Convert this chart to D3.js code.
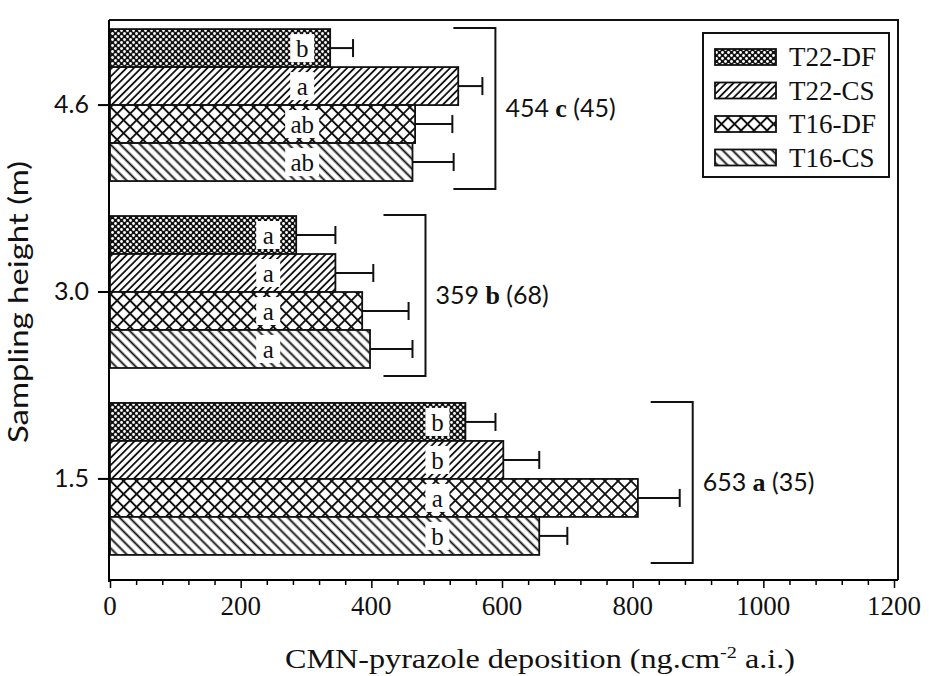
<!DOCTYPE html>
<html>
<head>
<meta charset="utf-8">
<script src="https://cdn.jsdelivr.net/npm/d3@7"></script>
<style>
  body { margin: 0; background: #fff; }
  svg { display: block; }
</style>
</head>
<body>
<svg width="929" height="676"></svg>
<script>
// sampling heights (top to bottom) and treatments
var heights = ['4.6', '3.0', '1.5'];
var treatments = ['T22-DF', 'T22-CS', 'T16-DF', 'T16-CS'];

// deposition per treatment, one array per height (same order as treatments)
var dep46 = [337, 533, 467, 463];
var dep30 = [285, 345, 386, 398];
var dep15 = [544, 602, 808, 657];

// error bars (+)
var err46 = [35, 37, 57, 63];
var err30 = [60, 58, 71, 65];
var err15 = [46, 55, 64, 43];

// significance letters inside bars
var let46 = ['b', 'a', 'ab', 'ab'];
var let30 = ['a', 'a', 'a', 'a'];
var let15 = ['b', 'b', 'a', 'b'];

// group summary: mean, letter, (sd)
var groupMean = [454, 359, 653];
var groupLetter = ['c', 'b', 'a'];
var groupSd = [45, 68, 35];

var xTicks = [0, 200, 400, 600, 800, 1000, 1200];

var values = [dep46, dep30, dep15];
var errors = [err46, err30, err15];
var letters = [let46, let30, let15];

var svg = d3.select('svg');
var margin = {top: 20, left: 109, right: 898, bottom: 580};

var xScale = d3.scaleLinear()
  .domain([0, 1200])
  .range([110, 894]);

var yScale = d3.scaleBand()
  .domain(heights)
  .range([16, 568])
  .paddingInner(0.187)
  .paddingOuter(0.07);

var inner = d3.scaleBand()
  .domain(treatments)
  .range([0, yScale.bandwidth()]);

// patterns
var defs = svg.append('defs');

var dots = defs.append('pattern')
  .attr('id', 'p0')
  .attr('patternUnits', 'userSpaceOnUse')
  .attr('width', 6).attr('height', 6);
dots.append('rect').attr('width', 6).attr('height', 6).attr('fill', '#111');
dots.append('circle').attr('cx', 1.5).attr('cy', 1.5).attr('r', 1.4).attr('fill', '#fff');
dots.append('circle').attr('cx', 4.5).attr('cy', 4.5).attr('r', 1.4).attr('fill', '#fff');

function stripes(id, w, angle, lw) {
  var p = defs.append('pattern')
    .attr('id', id)
    .attr('patternUnits', 'userSpaceOnUse')
    .attr('width', w).attr('height', w)
    .attr('patternTransform', 'rotate(' + angle + ')');
  p.append('rect').attr('width', w).attr('height', w).attr('fill', '#fff');
  p.append('line')
    .attr('x1', w / 2).attr('x2', w / 2)
    .attr('y1', 0).attr('y2', w)
    .attr('stroke', '#111').attr('stroke-width', lw);
  return p;
}
stripes('p1', 5.2, 45, 1.8);
var cross = stripes('p2', 9.2, 45, 1.9);
cross.append('line')
  .attr('x1', 0).attr('x2', 9.2)
  .attr('y1', 4.6).attr('y2', 4.6)
  .attr('stroke', '#111').attr('stroke-width', 1.9);
stripes('p3', 7, -45, 1.9);

var fills = ['url(#p0)', 'url(#p1)', 'url(#p2)', 'url(#p3)'];

// bars
var groups = svg.selectAll('g.grp')
  .data(heights)
  .enter()
  .append('g')
  .attr('class', 'grp')
  .attr('transform', (d) => `translate(0, ${yScale(d)})`);

groups.each(function(h, gi) {
  var g = d3.select(this);
  var rows = treatments.map((t, i) => ({t: t, i: i, v: values[gi][i], e: errors[gi][i], l: letters[gi][i]}));

  // error bars first, bars on top
  g.selectAll('line.err')
    .data(rows)
    .enter()
    .append('line')
    .attr('x1', (d) => xScale(d.v))
    .attr('x2', (d) => xScale(d.v + d.e))
    .attr('y1', (d) => inner(d.t) + inner.bandwidth() / 2)
    .attr('y2', (d) => inner(d.t) + inner.bandwidth() / 2)
    .attr('stroke', '#111').attr('stroke-width', 2);
  g.selectAll('line.cap')
    .data(rows)
    .enter()
    .append('line')
    .attr('x1', (d) => xScale(d.v + d.e))
    .attr('x2', (d) => xScale(d.v + d.e))
    .attr('y1', (d) => inner(d.t) + inner.bandwidth() / 2 - 9)
    .attr('y2', (d) => inner(d.t) + inner.bandwidth() / 2 + 9)
    .attr('stroke', '#111').attr('stroke-width', 2);

  g.selectAll('rect.bar')
    .data(rows)
    .enter()
    .append('rect')
    .attr('x', xScale(0))
    .attr('y', (d) => inner(d.t))
    .attr('width', (d) => xScale(d.v) - xScale(0))
    .attr('height', inner.bandwidth())
    .attr('fill', (d) => fills[d.i])
    .attr('stroke', '#111')
    .attr('stroke-width', 1.8);

  // letters in white boxes
  var lx = xScale(d3.min(values[gi])) - 28;
  var lab = g.selectAll('g.lab')
    .data(rows)
    .enter()
    .append('g')
    .attr('transform', (d) => `translate(${lx}, ${inner(d.t) + inner.bandwidth() / 2})`);
  lab.append('rect')
    .attr('x', (d) => d.l.length > 1 ? -17 : -12)
    .attr('width', (d) => d.l.length > 1 ? 34 : 24)
    .attr('y', -14).attr('height', 28)
    .attr('fill', '#fff');
  lab.append('text')
    .attr('text-anchor', 'middle')
    .attr('dy', '0.35em')
    .attr('font-family', 'Liberation Serif, serif')
    .attr('font-size', 25)
    .attr('fill', '#111')
    .text((d) => d.l);

  // bracket
  var bx = d3.max(rows, (d) => xScale(d.v + d.e)) + 13;
  var y0 = -1;
  var y1 = yScale.bandwidth() + 8;
  g.append('path')
    .attr('d', `M${bx - 42},${y0}H${bx}V${y1}H${bx - 42}`)
    .attr('fill', 'none')
    .attr('stroke', '#111')
    .attr('stroke-width', 2);

  var t = g.append('text')
    .attr('x', bx + 10)
    .attr('y', yScale.bandwidth() / 2 + 3)
    .attr('dy', '0.35em')
    .attr('font-family', 'Lato, sans-serif')
    .attr('font-size', 25)
    .attr('fill', '#111');
  t.append('tspan').text(groupMean[gi] + ' ');
  t.append('tspan').attr('font-family', 'Liberation Serif, serif').attr('font-weight', 'bold').attr('font-size', 26).text(groupLetter[gi]);
  t.append('tspan').text(' (' + groupSd[gi] + ')');
});

// frame
svg.append('path')
  .attr('d', `M${margin.left},${margin.top}H${margin.right}V${margin.bottom}`)
  .attr('fill', 'none')
  .attr('stroke', '#111')
  .attr('stroke-width', 2);

// x axis
var xAxis = d3.axisBottom(xScale)
  .tickValues(d3.range(0, 1201, 40))
  .tickSize(5)
  .tickFormat('');
svg.append('g')
  .attr('transform', `translate(0, ${margin.bottom})`)
  .call(xAxis)
  .call((g) => g.select('.domain').attr('d', `M${margin.left},0H${margin.right}`).attr('stroke-width', 2))
  .call((g) => g.selectAll('.tick line').attr('stroke-width', 1.5).attr('y2', (d) => d % 200 === 0 ? 8 : 5));

svg.append('g')
  .selectAll('text')
  .data(xTicks)
  .enter()
  .append('text')
  .attr('x', (d) => xScale(d))
  .attr('y', 615)
  .attr('text-anchor', 'middle')
  .attr('font-family', 'Liberation Serif, serif')
  .attr('font-size', 27)
  .attr('fill', '#111')
  .text((d) => d);

// y axis
var yAxis = d3.axisLeft(yScale)
  .tickSize(11)
  .tickPadding(9);
svg.append('g')
  .attr('transform', `translate(${margin.left}, 0)`)
  .call(yAxis)
  .call((g) => g.select('.domain').attr('d', `M0,${margin.top}V${margin.bottom + 2}`).attr('stroke-width', 2))
  .call((g) => g.selectAll('.tick line').attr('stroke-width', 2))
  .call((g) => g.selectAll('.tick text')
    .attr('font-family', 'Lato, sans-serif')
    .attr('font-size', 25)
    .attr('fill', '#111'));

// axis titles
svg.append('text')
  .attr('x', 540)
  .attr('y', 668)
  .attr('text-anchor', 'middle')
  .attr('font-family', 'Liberation Serif, serif')
  .attr('font-size', 27)
  .attr('textLength', 510)
  .attr('lengthAdjust', 'spacingAndGlyphs')
  .attr('fill', '#111')
  .call((t) => {
    t.append('tspan').text('CMN-pyrazole deposition (ng.cm');
    t.append('tspan').attr('dy', -10).attr('font-size', 17).text('-2');
    t.append('tspan').attr('dy', 10).text(' a.i.)');
  });

svg.append('text')
  .attr('transform', 'translate(28, 302) rotate(-90)')
  .attr('text-anchor', 'middle')
  .attr('font-family', 'Lato, sans-serif')
  .attr('font-size', 27)
  .attr('textLength', 282)
  .attr('lengthAdjust', 'spacingAndGlyphs')
  .attr('fill', '#111')
  .text('Sampling height (m)');

// legend
var legend = svg.append('g');
legend.append('rect')
  .attr('x', 703).attr('y', 33)
  .attr('width', 186).attr('height', 144)
  .attr('fill', '#fff')
  .attr('stroke', '#111')
  .attr('stroke-width', 2);

var item = legend.selectAll('g.item')
  .data(treatments)
  .enter()
  .append('g')
  .attr('transform', (d, i) => `translate(715, ${57 + i * 33.5})`);
item.append('rect')
  .attr('x', 0).attr('y', -8)
  .attr('width', 61).attr('height', 16)
  .attr('fill', (d, i) => fills[i])
  .attr('stroke', '#111')
  .attr('stroke-width', 1.8);
item.append('text')
  .attr('x', 74)
  .attr('dy', '0.35em')
  .attr('font-family', 'Liberation Serif, serif')
  .attr('font-size', 27)
  .attr('fill', '#111')
  .text((d) => d);
</script>
</body>
</html>
